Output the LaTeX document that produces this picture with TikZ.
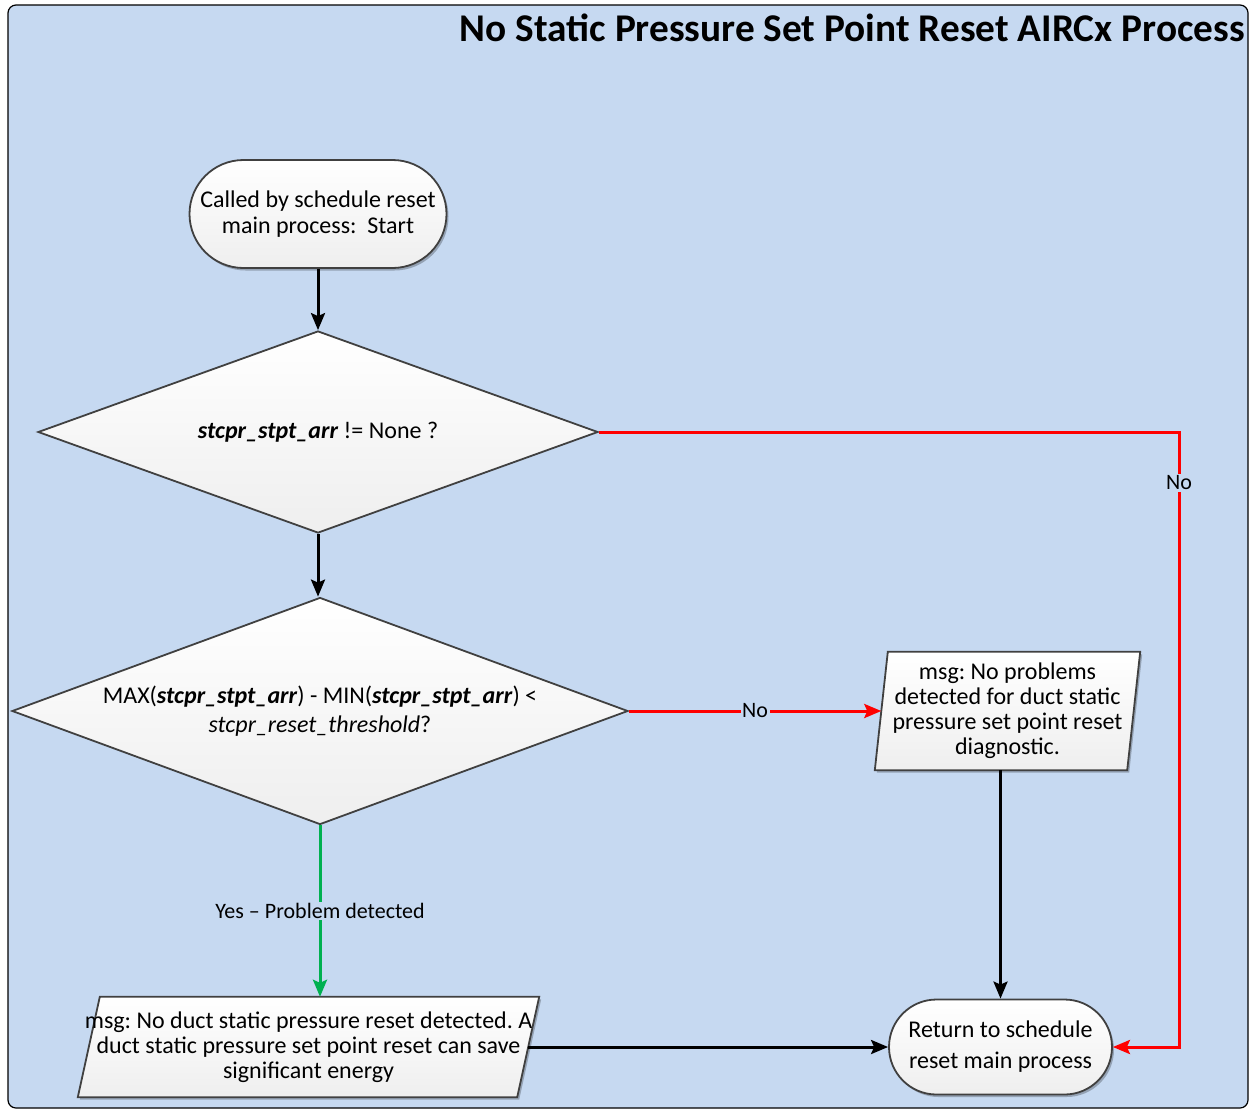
\documentclass[tikz,border=0pt]{standalone}
\usepackage{fontspec}
\setmainfont{Carlito}
\frenchspacing
\usetikzlibrary{shapes.geometric,shapes.misc,arrows.meta,backgrounds,shadows}
\definecolor{bgblue}{HTML}{C6D9F1}
\definecolor{edgegray}{HTML}{404040}
\definecolor{nored}{HTML}{FF0000}
\definecolor{yesgreen}{HTML}{00B050}
\newcommand{\var}[1]{\textbf{\textit{#1}}}
% a centred line that may run past the box edges
\newcommand{\wideline}[1]{\hbox to 0pt{\hss#1\hss}}
\begin{document}
\begin{tikzpicture}[x=1pt,y=-1pt,
  shapefill/.style={top color=white,bottom color=gray!13,draw=edgegray,line width=1.8pt},
  softshadow/.style={drop shadow={shadow xshift=2pt,shadow yshift=-2.5pt,opacity=.25,fill=black}},
  term/.style={rounded rectangle,shapefill,softshadow,align=center,inner sep=0pt},
  decision/.style={diamond,shapefill,align=center,inner sep=0pt},
  iobox/.style={rectangle,draw=none,align=center,inner sep=0pt},
  conn/.style={line width=3pt,-{Stealth[length=17pt,width=14pt,inset=3pt]}},
  lbl/.style={fill=bgblue,text=black,inner sep=1.5pt,font=\fontsize{22}{22}\selectfont},
  body/.style={font=\fontsize{24}{#1}\selectfont},
]
\useasboundingbox (0,0) rectangle (1255,1111);

% page frame
\begin{scope}[on background layer]
  \draw[fill=bgblue,draw=black,line width=1.2pt,rounded corners=8pt] (8,5) rectangle (1248,1108);
\end{scope}

\node[anchor=base east,inner sep=0pt,font=\bfseries\fontsize{39.3}{39.3}\selectfont] (title) at (1245,41)
  {No Static Pressure Set Point Reset AIRCx Process};

% flow elements
\node[term,body=26,minimum width=257pt,minimum height=108pt] (start) at (318,214)
  {Called by schedule reset\\main process:\ \ Start};

\node[decision,body=26,minimum width=560pt,minimum height=202pt,aspect=2.77] (d1) at (318,432)
  {\var{stcpr\_stpt\_arr} != None ?};

\node[decision,body=29,minimum width=616pt,minimum height=227pt,aspect=2.71] (d2) at (320,711)
  {MAX(\var{stcpr\_stpt\_arr}) - MIN(\var{stcpr\_stpt\_arr}) <\\\textit{stcpr\_reset\_threshold}?};

\node[iobox,body=25,minimum width=252pt,minimum height=118pt] (msg1) at (1007.5,711)
  {msg: No problems\\detected for duct static\\pressure set point reset\\diagnostic.};

\node[iobox,body=25,minimum width=439pt,minimum height=100pt] (msg2) at (308.5,1047)
  {\wideline{msg: No duct static pressure reset detected. A}\\
   \wideline{duct static pressure set point reset can save}\\
   \wideline{significant energy}};

\node[term,body=31,minimum width=223pt,minimum height=95pt] (end) at (1000.5,1047)
  {Return to schedule\\reset main process};

% slanted data boxes
\begin{scope}[on background layer]
  \path[shapefill,softshadow]
    ([xshift=6.5pt]msg1.north west) -- ([xshift=6.5pt]msg1.north east) --
    ([xshift=-6.5pt]msg1.south east) -- ([xshift=-6.5pt]msg1.south west) -- cycle;
  \path[shapefill,softshadow]
    ([xshift=11pt]msg2.north west) -- ([xshift=11pt]msg2.north east) --
    ([xshift=-11pt]msg2.south east) -- ([xshift=-11pt]msg2.south west) -- cycle;
\end{scope}

% connectors
\coordinate (turn) at (1179,432);
\draw[conn] (start.south) -- (d1.north);
\draw[conn] (d1.south) -- (d1.south |- d2.north);
\draw[conn,nored] (d1.east) -- (turn) |- (end.east);
\node[lbl] (nolbl1) at (1179,483) {No};
\draw[conn,nored] (d2.east) -- node[lbl] (nolbl2) {No} (msg1.west);
\draw[conn,yesgreen] (d2.south) -- node[lbl,pos=0.5] (yeslbl) {Yes – Problem detected} (d2.south |- msg2.north);
\draw[conn] (end.north |- msg1.south) -- (end.north);
\draw[conn] (msg2.east) -- (end.west);
\end{tikzpicture}
\end{document}
